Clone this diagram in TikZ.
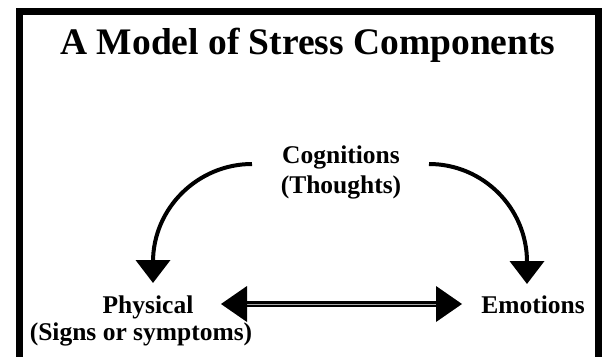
\documentclass[tikz,border=0pt]{standalone}
\usepackage{fontspec}
\setmainfont{Liberation Serif}
\usetikzlibrary{arrows.meta}
\begin{document}
\begin{tikzpicture}[x=1pt,y=-1pt,
  lbl/.style={font=\fontsize{25.5}{30}\selectfont\bfseries, inner sep=0pt, anchor=base},
  curvearrow/.style={line width=4pt, -{Triangle[length=23pt,width=34pt]}},
  headtri/.style={fill=black},
  shaft/.style={line width=2.4pt, double=black!35, double distance=0.9pt},
]
\useasboundingbox (0,0) rectangle (602,356);
\clip (0,0) rectangle (602,356);
\draw[line width=7pt, line join=miter] (19.5,370) -- (19.5,11.5) -- (598.5,11.5) -- (598.5,370);
\node[anchor=base, inner sep=0pt, font=\fontsize{37.5}{45}\selectfont\bfseries] (title) at (308,54) {A Model of Stress Components};
\node[lbl] (cog1) at (341,163) {Cognitions};
\node[lbl] (cog2) at (341,193) {(Thoughts)};
\node[lbl] (phys1) at (148,313) {Physical};
\node[lbl] (phys2) at (141,340) {(Signs or symptoms)};
\node[lbl] (emo) at (533,313) {Emotions};
% connector end points
\coordinate (cL) at (252,164);
\coordinate (pT) at (153,283);
\coordinate (cR) at (429,164);
\coordinate (eT) at (527,284);
\coordinate (hL) at (221,304);
\coordinate (hR) at (462,304);
\draw[curvearrow] (cL) .. controls ++(-54,0) and (153,208) .. (153,262) -- (pT);
\draw[curvearrow] (cR) .. controls ++(54,0) and (527,208) .. (527,262) -- (eT);
\draw[shaft] ([xshift=24pt]hL) -- ([xshift=-24pt]hR);
\fill[headtri] (hL) -- ++(26,-18) -- ++(0,36) -- cycle;
\fill[headtri] (hR) -- ++(-26,-18) -- ++(0,36) -- cycle;
\end{tikzpicture}
\end{document}
